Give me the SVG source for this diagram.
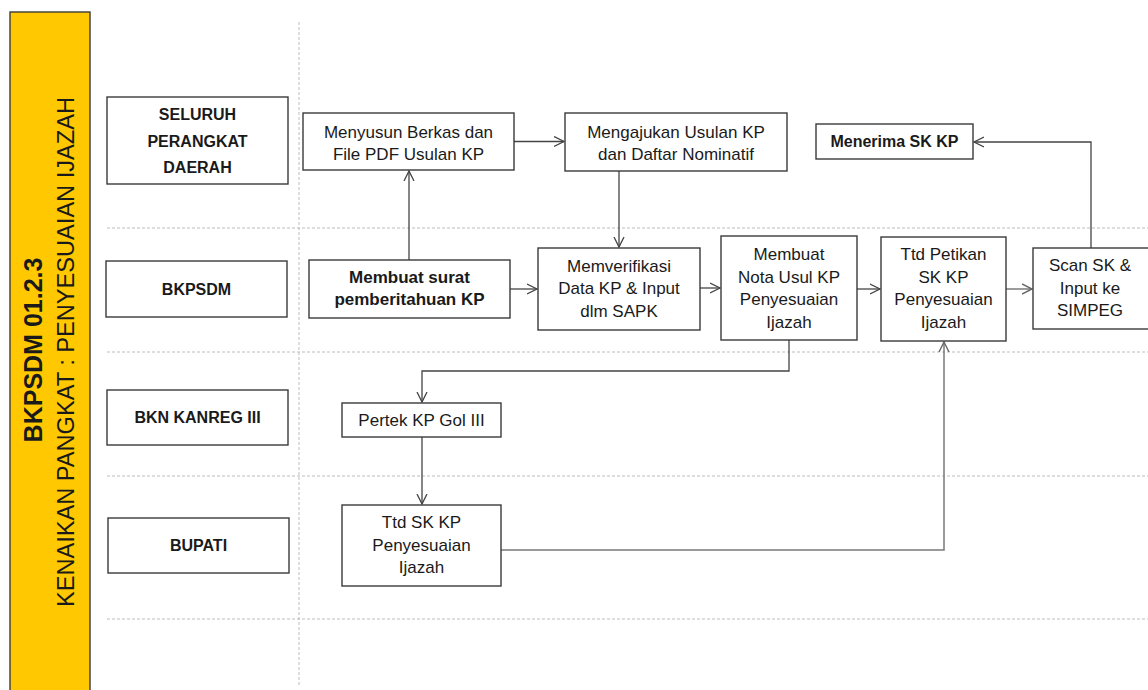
<svg xmlns="http://www.w3.org/2000/svg" width="1148" height="690" viewBox="0 0 1148 690">
<style>
.bx{fill:#fff;stroke:#3a3a3a;stroke-width:1.4}
.t{font-family:"Liberation Sans",Arial,sans-serif;font-size:17px;fill:#1a1a1a;text-anchor:middle}
.b{font-weight:bold}
.l16{font-size:16px}
.dash{stroke:#bdbdbd;stroke-width:1;stroke-dasharray:3 2;fill:none}
.c{fill:none;stroke:#444;stroke-width:1.3}
.cg{fill:none;stroke:#7a7a7a;stroke-width:1.5}
</style>
<defs>
<marker id="ah" markerUnits="userSpaceOnUse" markerWidth="12" markerHeight="12" refX="10" refY="5" orient="auto" viewBox="0 0 12 10">
<path d="M0,0 L10,5 L0,10" fill="none" stroke="#444" stroke-width="1.3"/>
</marker>
<marker id="ahg" markerUnits="userSpaceOnUse" markerWidth="12" markerHeight="12" refX="10" refY="5" orient="auto" viewBox="0 0 12 10">
<path d="M0,0 L10,5 L0,10" fill="none" stroke="#666" stroke-width="1.4"/>
</marker>
</defs>
<rect width="1148" height="690" fill="#fff"/>
<g id="title-bar">
<rect x="10" y="12" width="80" height="690" fill="#ffc800" stroke="#3a3a3a" stroke-width="1.4"/>
<text class="t b" style="font-size:25px" transform="translate(42,350) rotate(-90)">BKPSDM 01.2.3</text>
<text class="t" style="font-size:24px" textLength="510" lengthAdjust="spacingAndGlyphs" transform="translate(74,352) rotate(-90)">KENAIKAN PANGKAT : PENYESUAIAN IJAZAH</text>
</g>
<g id="lanes">
<line class="dash" x1="299" y1="22" x2="299" y2="686"/>
<line class="dash" x1="107" y1="228" x2="1148" y2="228"/>
<line class="dash" x1="107" y1="352" x2="1148" y2="352"/>
<line class="dash" x1="107" y1="476" x2="1148" y2="476"/>
<line class="dash" x1="107" y1="619" x2="1148" y2="619"/>
</g>
<g id="lane-seluruh">
<rect class="bx" x="107" y="97" width="181" height="87"/>
<text class="t b l16" x="197.5" y="120">SELURUH</text>
<text class="t b l16" x="197.5" y="147">PERANGKAT</text>
<text class="t b l16" x="197.5" y="173">DAERAH</text>
</g>
<g id="lane-bkpsdm">
<rect class="bx" x="106" y="261" width="181" height="56"/>
<text class="t b l16" x="196.5" y="295">BKPSDM</text>
</g>
<g id="lane-bkn">
<rect class="bx" x="107" y="390" width="181" height="55"/>
<text class="t b l16" x="197.5" y="423">BKN KANREG III</text>
</g>
<g id="lane-bupati">
<rect class="bx" x="108" y="518" width="181" height="55"/>
<text class="t b l16" x="198.5" y="551">BUPATI</text>
</g>
<g id="connectors">
<path class="c" d="M514,141.5 H564" marker-end="url(#ah)"/>
<path class="c" d="M409,260 V171" marker-end="url(#ah)"/>
<path class="c" d="M619,171 V247" marker-end="url(#ah)"/>
<path class="c" d="M510,289 H537" marker-end="url(#ah)"/>
<path class="c" d="M700,288 H720" marker-end="url(#ah)"/>
<path class="c" d="M857,289 H880" marker-end="url(#ah)"/>
<path class="cg" d="M1006,289 H1032" marker-end="url(#ahg)"/>
<path class="c" d="M1091,248 V142 H974" marker-end="url(#ah)"/>
<path class="c" d="M789,340 V371 H422 V402" marker-end="url(#ah)"/>
<path class="c" d="M422,437 V504" marker-end="url(#ah)"/>
<path class="cg" d="M498,550 H944 V342" marker-end="url(#ahg)"/>
</g>
<g id="n-menyusun">
<rect class="bx" x="303" y="113" width="211" height="57"/>
<text class="t" x="408.5" y="138">Menyusun Berkas dan</text>
<text class="t" x="408.5" y="160">File PDF Usulan KP</text>
</g>
<g id="n-mengajukan">
<rect class="bx" x="565" y="113" width="222" height="58"/>
<text class="t" x="676" y="138">Mengajukan Usulan KP</text>
<text class="t" x="676" y="160">dan Daftar Nominatif</text>
</g>
<g id="n-menerima">
<rect class="bx" x="816" y="124" width="157" height="35"/>
<text class="t b l16" x="894.5" y="147">Menerima SK KP</text>
</g>
<g id="n-membuat-surat">
<rect class="bx" x="309" y="260" width="201" height="58"/>
<text class="t b" x="409.5" y="283">Membuat surat</text>
<text class="t b" x="409.5" y="305">pemberitahuan KP</text>
</g>
<g id="n-memverifikasi">
<rect class="bx" x="538" y="248" width="162" height="82"/>
<text class="t" x="619" y="272">Memverifikasi</text>
<text class="t" x="619" y="294">Data KP &amp; Input</text>
<text class="t" x="619" y="317">dlm SAPK</text>
</g>
<g id="n-nota">
<rect class="bx" x="721" y="236" width="136" height="104"/>
<text class="t" x="789" y="260">Membuat</text>
<text class="t" x="789" y="283">Nota Usul KP</text>
<text class="t" x="789" y="305">Penyesuaian</text>
<text class="t" x="789" y="328">Ijazah</text>
</g>
<g id="n-ttd-petikan">
<rect class="bx" x="881" y="237" width="125" height="104"/>
<text class="t" x="943.5" y="260">Ttd Petikan</text>
<text class="t" x="943.5" y="283">SK KP</text>
<text class="t" x="943.5" y="305">Penyesuaian</text>
<text class="t" x="943.5" y="328">Ijazah</text>
</g>
<g id="n-scan">
<rect class="bx" x="1033" y="248" width="122" height="81"/>
<text class="t" x="1090" y="271">Scan SK &amp;</text>
<text class="t" x="1090" y="294">Input ke</text>
<text class="t" x="1090" y="316">SIMPEG</text>
</g>
<g id="n-pertek">
<rect class="bx" x="342" y="403" width="159" height="34"/>
<text class="t" x="421.5" y="426">Pertek KP Gol III</text>
</g>
<g id="n-ttd-sk">
<rect class="bx" x="342" y="505" width="159" height="81"/>
<text class="t" x="421.5" y="528">Ttd SK KP</text>
<text class="t" x="421.5" y="551">Penyesuaian</text>
<text class="t" x="421.5" y="573">Ijazah</text>
</g>
</svg>
